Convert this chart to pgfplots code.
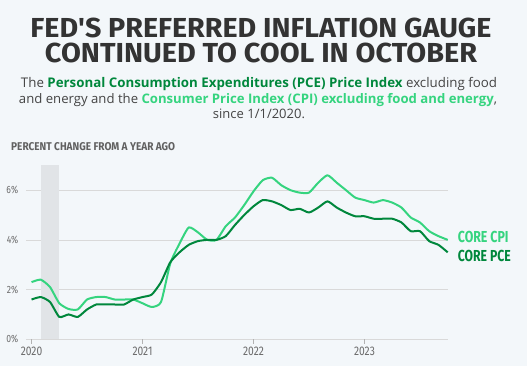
\documentclass[border=0pt]{standalone}
\usepackage{fontspec}
\usepackage{pgfplots}
\pgfplotsset{compat=1.18}
\setmainfont{Open Sans}
\newfontfamily\titlefont{Fira Sans}
\newfontfamily\condfont[FakeStretch=0.82]{Fira Sans}
\definecolor{bg}{HTML}{F3F7FA}
\definecolor{cpi}{HTML}{35D47F}
\definecolor{pce}{HTML}{00873C}
\definecolor{ttl}{HTML}{333333}
\definecolor{sub}{HTML}{444444}
\definecolor{band}{HTML}{E1E4E7}
\pgfplotstableread{
m v
0 2.3
1 2.4
2 2.1
3 1.45
4 1.22
5 1.2
6 1.6
7 1.7
8 1.7
9 1.6
10 1.6
11 1.6
12 1.45
13 1.3
14 1.5
15 3.05
16 3.85
17 4.5
18 4.3
19 4.0
20 4.0
21 4.55
22 4.9
23 5.4
24 5.95
25 6.4
26 6.5
27 6.2
28 6.0
29 5.9
30 5.9
31 6.3
32 6.6
33 6.3
34 6.0
35 5.7
36 5.6
37 5.5
38 5.6
39 5.5
40 5.3
41 4.9
42 4.7
43 4.35
44 4.15
45 4.0
}\cpidata
\pgfplotstableread{
m v
0 1.6
1 1.7
2 1.5
3 0.9
4 1.0
5 0.9
6 1.2
7 1.4
8 1.4
9 1.4
10 1.4
11 1.6
12 1.7
13 1.8
14 2.3
15 3.1
16 3.5
17 3.8
18 3.95
19 4.0
20 4.0
21 4.15
22 4.6
23 5.0
24 5.35
25 5.6
26 5.55
27 5.4
28 5.2
29 5.25
30 5.1
31 5.3
32 5.55
33 5.3
34 5.1
35 4.95
36 4.95
37 4.85
38 4.85
39 4.85
40 4.7
41 4.35
42 4.35
43 3.95
44 3.8
45 3.5
}\pcedata
\begin{document}
\begin{tikzpicture}[x=1pt,y=1pt]
\useasboundingbox (0,0) rectangle (527,366);
\fill[bg] (0,0) rectangle (527,366);
% title
\node[anchor=south, inner sep=0, text=ttl] at (261,328.2) {\resizebox{461pt}{19.5pt}{\titlefont\bfseries FED'S PREFERRED INFLATION GAUGE}};
\node[anchor=south, inner sep=0, text=ttl] at (261,303.2) {\resizebox{432pt}{19.5pt}{\titlefont\bfseries CONTINUED TO COOL IN OCTOBER}};
% subtitle
\node[anchor=base, inner sep=0, text=sub] at (259,278.7) {\resizebox{476pt}{!}{The \textcolor{pce}{\bfseries Personal Consumption Expenditures (PCE) Price Index} excluding food}};
\node[anchor=base, inner sep=0, text=sub] at (258,262.7) {\resizebox{478pt}{!}{and energy and the \textcolor{cpi}{\bfseries Consumer Price Index (CPI) excluding food and energy},}};
\node[anchor=base, inner sep=0, text=sub] at (259,247) {\resizebox{92pt}{!}{since 1/1/2020.}};
% y-axis caption
\node[anchor=south west, inner sep=0, text=black!62] at (11,214.7) {\resizebox{164pt}{8pt}{\condfont\bfseries PERCENT CHANGE FROM A YEAR AGO}};
\begin{axis}[
  at={(26pt,26.7pt)}, anchor=south west,
  scale only axis, width=421.7pt, height=174pt,
  xmin=-0.6, xmax=45, ymin=0, ymax=7,
  axis line style={draw=none},
  clip=false,
  ytick={0,2,4,6}, yticklabels={0\%,2\%,4\%,6\%},
  xtick={0,12,24,36}, xticklabels={2020,2021,2022,2023},
  ymajorgrids, major grid style={draw=black!15, line width=0.7pt},
  tick align=outside,
  major x tick style={draw=black!30, line width=0.6pt},
  major y tick style={draw=none},
  x tick label style={font=\condfont\fontsize{12.5}{13}\selectfont, text=black!58, yshift=0pt},
  y tick label style={font=\condfont\fontsize{10.5}{11}\selectfont, text=black!58},
  xtick pos=bottom, ytick pos=left,
]
\addplot[fill=band, draw=none] coordinates {(1,0) (3,0) (3,7) (1,7)} -- cycle;
\addplot[cpi, line width=2pt, line join=round, smooth, tension=0.35] table[x=m,y=v] {\cpidata};
\addplot[pce, line width=2pt, line join=round, smooth, tension=0.35] table[x=m,y=v] {\pcedata};
\node[anchor=west, inner sep=0, text=cpi, xshift=10pt] at (axis cs:45,4.13) {\resizebox{50.7pt}{11.3pt}{\condfont\bfseries CORE CPI}};
\node[anchor=west, inner sep=0, text=pce, xshift=10pt] at (axis cs:45,3.35) {\resizebox{53pt}{11.3pt}{\condfont\bfseries CORE PCE}};
\end{axis}
\end{tikzpicture}
\end{document}
